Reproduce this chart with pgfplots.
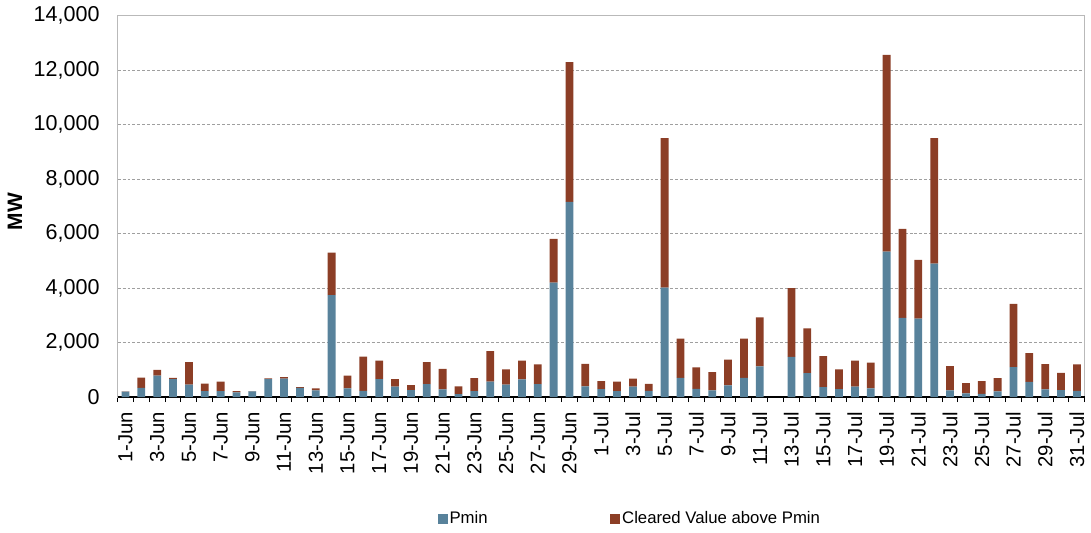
\documentclass[border=0pt]{standalone}
\usepackage{fontspec}
\setmainfont{Liberation Sans}
\usepackage{pgfplots}
\pgfplotsset{compat=1.18}
\definecolor{pminC}{RGB}{88,130,155}
\definecolor{clrC}{RGB}{140,62,38}
\begin{document}
\begin{tikzpicture}
\begin{axis}[
  scale only axis,
  width=485.5pt, height=191.5pt,
  xmin=-0.5, xmax=60.5, ymin=0, ymax=14000,
  ybar stacked, bar width=3.9pt,
  ytick={0,2000,...,14000},
  scaled y ticks=false,
  ymajorgrids,
  major grid style={gray!75, dash pattern=on 1.5pt off 1pt, line width=0.4pt},
  axis line style={gray!55, line width=0.6pt},
  xtick={0,2,...,60},
  xticklabels={1-Jun,3-Jun,5-Jun,7-Jun,9-Jun,11-Jun,13-Jun,15-Jun,17-Jun,19-Jun,21-Jun,23-Jun,25-Jun,27-Jun,29-Jun,1-Jul,3-Jul,5-Jul,7-Jul,9-Jul,11-Jul,13-Jul,15-Jul,17-Jul,19-Jul,21-Jul,23-Jul,25-Jul,27-Jul,29-Jul,31-Jul},
  minor xtick={-0.5,0.5,...,60.5},
  major tick length=0pt, minor tick length=2.5pt,
  tick align=outside, tick pos=left,
  minor tick style={black, line width=0.5pt},
  xticklabel style={rotate=90, anchor=east, font=\fontsize{10.2}{12}\selectfont},
  xticklabel shift=4pt,
  yticklabel style={font=\fontsize{10.8}{12}\selectfont, xshift=-5.5pt,
    /pgf/number format/.cd, fixed, 1000 sep={,}, assume math mode=true},
  ylabel={\textbf{MW}},
  ylabel style={at={(axis description cs:-0.106,0.486)}, anchor=center, font=\fontsize{10.5}{12}\selectfont},
  clip=false,
  legend columns=2,
  legend style={draw=none, fill=none, at={(0.5296,-0.3207)}, anchor=center,
    font=\fontsize{8.4}{10}\selectfont,
    nodes={inner sep=1pt},
    /tikz/every even column/.append style={column sep=60.5pt}},
  legend image code/.code={\fill[#1] (0pt,-2.5pt) rectangle (5pt,2.5pt);},
]
\addplot+[fill=pminC, draw=none] coordinates {
(0,200) (1,340) (2,790) (3,660) (4,460) (5,220) (6,220) (7,170) (8,210) (9,660)
(10,680) (11,340) (12,245) (13,3740) (14,315) (15,230) (16,660) (17,380) (18,255) (19,475)
(20,280) (21,110) (22,220) (23,570) (24,460) (25,645) (26,475) (27,4200) (28,7160) (29,390)
(30,290) (31,220) (32,380) (33,230) (34,4020) (35,705) (36,305) (37,245) (38,425) (39,705)
(40,1130) (41,0) (42,1475) (43,875) (44,365) (45,290) (46,380) (47,315) (48,5335) (49,2910)
(50,2875) (51,4895) (52,245) (53,135) (54,120) (55,205) (56,1095) (57,560) (58,280) (59,255)
(60,230)};
\addlegendentry{Pmin}
\addplot+[fill=clrC, draw=none] coordinates {
(0,10) (1,370) (2,210) (3,40) (4,820) (5,270) (6,350) (7,50) (8,10) (9,30)
(10,50) (11,25) (12,70) (13,1560) (14,475) (15,1256) (16,680) (17,280) (18,185) (19,805)
(20,755) (21,280) (22,474) (23,1120) (24,560) (25,695) (26,720) (27,1600) (28,5130) (29,830)
(30,295) (31,350) (32,300) (33,255) (34,5480) (35,1440) (36,780) (37,670) (38,950) (39,1440)
(40,1790) (41,0) (42,2520) (43,1645) (44,1135) (45,730) (46,960) (47,950) (48,7225) (49,3265)
(50,2155) (51,4605) (52,890) (53,375) (54,465) (55,490) (56,2325) (57,1050) (58,925) (59,635)
(60,965)};
\addlegendentry{Cleared Value above Pmin}
\draw[black, line width=0.6pt] (axis cs:-0.5,0) -- (axis cs:60.5,0);
\end{axis}
\path[use as bounding box] (-59pt,-66pt) rectangle (486.5pt,198.5pt);
\end{tikzpicture}
\end{document}
